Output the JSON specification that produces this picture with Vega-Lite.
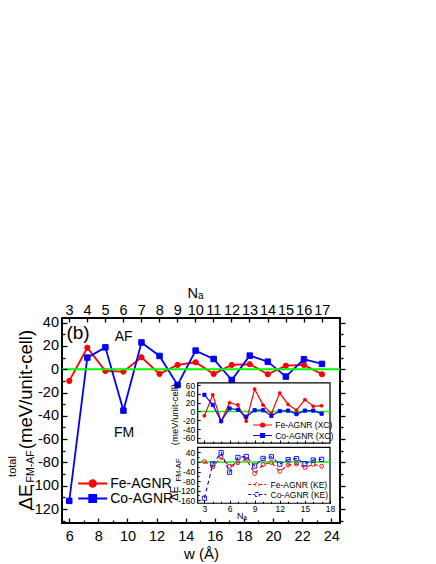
{
"$schema": "https://vega.github.io/schema/vega-lite/v6.json",
"width": 278, "height": 205,
"autosize": {"type": "none"},
"padding": {"left": 62, "top": 318, "right": 96, "bottom": 41},
"background": "white",
"config": {
  "font": "Liberation Sans",
  "view": {"stroke": "black", "strokeWidth": 2},
  "axis": {"grid": false, "domain": false, "tickColor": "black", "labelColor": "black", "titleColor": "black", "titleFontWeight": "normal", "labelFont": "Liberation Sans", "titleFont": "Liberation Sans", "labelFlush": false, "tickWidth": 1.3},
  "legend": {"labelFont": "Liberation Sans", "labelColor": "black"}
},
"datasets": {
  "main": [
    {"Na": 3, "w": 6.00, "material": "Fe-AGNR", "E": -10},
    {"Na": 4, "w": 7.24, "material": "Fe-AGNR", "E": 18.5},
    {"Na": 5, "w": 8.48, "material": "Fe-AGNR", "E": -1.5},
    {"Na": 6, "w": 9.72, "material": "Fe-AGNR", "E": -2},
    {"Na": 7, "w": 10.96, "material": "Fe-AGNR", "E": 10.3},
    {"Na": 8, "w": 12.20, "material": "Fe-AGNR", "E": -4},
    {"Na": 9, "w": 13.44, "material": "Fe-AGNR", "E": 3.7},
    {"Na": 10, "w": 14.68, "material": "Fe-AGNR", "E": 6},
    {"Na": 11, "w": 15.92, "material": "Fe-AGNR", "E": -4},
    {"Na": 12, "w": 17.16, "material": "Fe-AGNR", "E": 3.7},
    {"Na": 13, "w": 18.40, "material": "Fe-AGNR", "E": 4.3},
    {"Na": 14, "w": 19.64, "material": "Fe-AGNR", "E": -4.3},
    {"Na": 15, "w": 20.88, "material": "Fe-AGNR", "E": 3.1},
    {"Na": 16, "w": 22.12, "material": "Fe-AGNR", "E": 3.7},
    {"Na": 17, "w": 23.36, "material": "Fe-AGNR", "E": -4.3},
    {"Na": 3, "w": 6.00, "material": "Co-AGNR", "E": -113},
    {"Na": 4, "w": 7.24, "material": "Co-AGNR", "E": 10},
    {"Na": 5, "w": 8.48, "material": "Co-AGNR", "E": 18.8},
    {"Na": 6, "w": 9.72, "material": "Co-AGNR", "E": -35.5},
    {"Na": 7, "w": 10.96, "material": "Co-AGNR", "E": 23},
    {"Na": 8, "w": 12.20, "material": "Co-AGNR", "E": 11.4},
    {"Na": 9, "w": 13.44, "material": "Co-AGNR", "E": -13.5},
    {"Na": 10, "w": 14.68, "material": "Co-AGNR", "E": 16},
    {"Na": 11, "w": 15.92, "material": "Co-AGNR", "E": 8.8},
    {"Na": 12, "w": 17.16, "material": "Co-AGNR", "E": -9.2},
    {"Na": 13, "w": 18.40, "material": "Co-AGNR", "E": 11.7},
    {"Na": 14, "w": 19.64, "material": "Co-AGNR", "E": 6.5},
    {"Na": 15, "w": 20.88, "material": "Co-AGNR", "E": -6.3},
    {"Na": 16, "w": 22.12, "material": "Co-AGNR", "E": 8.6},
    {"Na": 17, "w": 23.36, "material": "Co-AGNR", "E": 4.6}
  ],
  "xc": [
    {"Na": 3, "material": "Fe-AGNR (XC)", "E": -10},
    {"Na": 4, "material": "Fe-AGNR (XC)", "E": 38},
    {"Na": 5, "material": "Fe-AGNR (XC)", "E": -23},
    {"Na": 6, "material": "Fe-AGNR (XC)", "E": 20},
    {"Na": 7, "material": "Fe-AGNR (XC)", "E": 15},
    {"Na": 8, "material": "Fe-AGNR (XC)", "E": -22},
    {"Na": 9, "material": "Fe-AGNR (XC)", "E": 51},
    {"Na": 10, "material": "Fe-AGNR (XC)", "E": 15},
    {"Na": 11, "material": "Fe-AGNR (XC)", "E": -5},
    {"Na": 12, "material": "Fe-AGNR (XC)", "E": 42},
    {"Na": 13, "material": "Fe-AGNR (XC)", "E": 16},
    {"Na": 14, "material": "Fe-AGNR (XC)", "E": 3},
    {"Na": 15, "material": "Fe-AGNR (XC)", "E": 27},
    {"Na": 16, "material": "Fe-AGNR (XC)", "E": 12},
    {"Na": 17, "material": "Fe-AGNR (XC)", "E": 13},
    {"Na": 3, "material": "Co-AGNR (XC)", "E": 38},
    {"Na": 4, "material": "Co-AGNR (XC)", "E": 15},
    {"Na": 5, "material": "Co-AGNR (XC)", "E": -22},
    {"Na": 6, "material": "Co-AGNR (XC)", "E": 7},
    {"Na": 7, "material": "Co-AGNR (XC)", "E": 4},
    {"Na": 8, "material": "Co-AGNR (XC)", "E": -12},
    {"Na": 9, "material": "Co-AGNR (XC)", "E": 3},
    {"Na": 10, "material": "Co-AGNR (XC)", "E": 3},
    {"Na": 11, "material": "Co-AGNR (XC)", "E": -10},
    {"Na": 12, "material": "Co-AGNR (XC)", "E": 1},
    {"Na": 13, "material": "Co-AGNR (XC)", "E": 2},
    {"Na": 14, "material": "Co-AGNR (XC)", "E": -6},
    {"Na": 15, "material": "Co-AGNR (XC)", "E": 2},
    {"Na": 16, "material": "Co-AGNR (XC)", "E": 2},
    {"Na": 17, "material": "Co-AGNR (XC)", "E": -5}
  ],
  "ke": [
    {"Na": 3, "material": "Fe-AGNR (KE)", "E": 2},
    {"Na": 4, "material": "Fe-AGNR (KE)", "E": -20},
    {"Na": 5, "material": "Fe-AGNR (KE)", "E": 19},
    {"Na": 6, "material": "Fe-AGNR (KE)", "E": -18},
    {"Na": 7, "material": "Fe-AGNR (KE)", "E": -3},
    {"Na": 8, "material": "Fe-AGNR (KE)", "E": 12},
    {"Na": 9, "material": "Fe-AGNR (KE)", "E": -48},
    {"Na": 10, "material": "Fe-AGNR (KE)", "E": -11},
    {"Na": 11, "material": "Fe-AGNR (KE)", "E": -2},
    {"Na": 12, "material": "Fe-AGNR (KE)", "E": -39},
    {"Na": 13, "material": "Fe-AGNR (KE)", "E": -13},
    {"Na": 14, "material": "Fe-AGNR (KE)", "E": -8},
    {"Na": 15, "material": "Fe-AGNR (KE)", "E": -23},
    {"Na": 16, "material": "Fe-AGNR (KE)", "E": -10},
    {"Na": 17, "material": "Fe-AGNR (KE)", "E": -18},
    {"Na": 3, "material": "Co-AGNR (KE)", "E": -152},
    {"Na": 4, "material": "Co-AGNR (KE)", "E": -8},
    {"Na": 5, "material": "Co-AGNR (KE)", "E": 39},
    {"Na": 6, "material": "Co-AGNR (KE)", "E": -43},
    {"Na": 7, "material": "Co-AGNR (KE)", "E": 19},
    {"Na": 8, "material": "Co-AGNR (KE)", "E": 23},
    {"Na": 9, "material": "Co-AGNR (KE)", "E": -17},
    {"Na": 10, "material": "Co-AGNR (KE)", "E": 15},
    {"Na": 11, "material": "Co-AGNR (KE)", "E": 22},
    {"Na": 12, "material": "Co-AGNR (KE)", "E": -9},
    {"Na": 13, "material": "Co-AGNR (KE)", "E": 10},
    {"Na": 14, "material": "Co-AGNR (KE)", "E": 14},
    {"Na": 15, "material": "Co-AGNR (KE)", "E": -7},
    {"Na": 16, "material": "Co-AGNR (KE)", "E": 8},
    {"Na": 17, "material": "Co-AGNR (KE)", "E": 11}
  ]
},
"layer": [
  {
    "data": {"name": "main"},
    "transform": [{"filter": "datum.material === 'Fe-AGNR'"}],
    "encoding": {
      "x": {"field": "w", "type": "quantitative", "scale": {"domain": [5.5, 24.6], "nice": false, "zero": false},
        "axis": {"orient": "bottom", "values": [6,7,8,9,10,11,12,13,14,15,16,17,18,19,20,21,22,23,24],
          "labelExpr": "datum.value % 2 === 0 ? '' + datum.value : ''",
          "tickSize": {"condition": {"test": "datum.value % 2 === 0", "value": -5}, "value": -3},
          "labelPadding": 11.5, "labelFontSize": 14.5, "title": "w (Å)", "titleFontSize": 15,
          "titleY": 30, "titleBaseline": "middle", "zindex": 1}},
      "y": {"field": "E", "type": "quantitative", "scale": {"domain": [-132, 44], "nice": false, "zero": false},
        "axis": {"orient": "left", "values": [-130,-120,-110,-100,-90,-80,-70,-60,-50,-40,-30,-20,-10,0,10,20,30,40],
          "labelExpr": "datum.value % 20 === 0 ? '' + datum.value : ''",
          "tickSize": {"condition": {"test": "datum.value % 20 === 0", "value": -5}, "value": -3},
          "labelPadding": 8.5, "labelFontSize": 14.5, "title": "ΔE", "titleFontSize": 19,
          "titleX": -31, "titleY": 178.5, "titleAngle": -90, "titleAlign": "center", "titleBaseline": "alphabetic", "zindex": 1}}
    },
    "layer": [
      {"mark": {"type": "line", "strokeWidth": 1.8},
       "encoding": {"stroke": {"field": "material", "type": "nominal", "scale": {"domain": ["Fe-AGNR"], "range": ["#ff0000"]},
         "legend": {"orient": "none", "legendX": 23.7, "legendY": 158.5, "title": null, "padding": 0, "labelFontSize": 14, "labelOffset": 10.5, "symbolSize": 93.4, "symbolStrokeWidth": 1.8, "symbolType": "M-3,0L3,0M-0.68,0A0.68,0.68,0,1,1,0.68,0A0.68,0.68,0,1,1,-0.68,0Z"}}}},
      {"mark": {"type": "point", "filled": true, "opacity": 1, "size": 27, "strokeWidth": 1},
       "encoding": {
         "stroke": {"field": "material", "type": "nominal", "scale": {"domain": ["Fe-AGNR"], "range": ["#ff0000"]},
           "legend": {"orient": "none", "legendX": 23.7, "legendY": 158.5, "title": null, "padding": 0, "labelFontSize": 14, "labelOffset": 10.5, "symbolSize": 93.4, "symbolStrokeWidth": 1.8, "symbolType": "M-3,0L3,0M-0.68,0A0.68,0.68,0,1,1,0.68,0A0.68,0.68,0,1,1,-0.68,0Z"}},
         "fill": {"field": "material", "type": "nominal", "scale": {"domain": ["Fe-AGNR"], "range": ["#ff0000"]},
           "legend": {"orient": "none", "legendX": 23.7, "legendY": 158.5, "title": null, "padding": 0, "labelFontSize": 14, "labelOffset": 10.5, "symbolSize": 93.4, "symbolStrokeWidth": 1.8, "symbolType": "M-3,0L3,0M-0.68,0A0.68,0.68,0,1,1,0.68,0A0.68,0.68,0,1,1,-0.68,0Z"}}}}
    ]
  },
  {
    "data": {"name": "main"},
    "transform": [{"filter": "datum.material === 'Co-AGNR'"}],
    "encoding": {
      "x": {"field": "w", "type": "quantitative", "scale": {"domain": [5.5, 24.6], "nice": false, "zero": false}, "axis": null},
      "y": {"field": "E", "type": "quantitative", "scale": {"domain": [-132, 44], "nice": false, "zero": false}, "axis": null}
    },
    "layer": [
      {"mark": {"type": "line", "strokeWidth": 1.8},
       "encoding": {"stroke": {"field": "material", "type": "nominal", "scale": {"domain": ["Co-AGNR"], "range": ["#0000ff"]},
         "legend": {"orient": "none", "legendX": 23.7, "legendY": 173.5, "title": null, "padding": 0, "labelFontSize": 14, "labelOffset": 10.5, "symbolSize": 93.4, "symbolStrokeWidth": 1.8, "symbolType": "M-3,0L3,0M-0.72,-0.72L0.72,-0.72L0.72,0.72L-0.72,0.72Z"}}}},
      {"mark": {"type": "point", "filled": true, "opacity": 1, "size": 30, "strokeWidth": 1, "shape": "square"},
       "encoding": {
         "stroke": {"field": "material", "type": "nominal", "scale": {"domain": ["Co-AGNR"], "range": ["#0000ff"]},
           "legend": {"orient": "none", "legendX": 23.7, "legendY": 173.5, "title": null, "padding": 0, "labelFontSize": 14, "labelOffset": 10.5, "symbolSize": 93.4, "symbolStrokeWidth": 1.8, "symbolType": "M-3,0L3,0M-0.72,-0.72L0.72,-0.72L0.72,0.72L-0.72,0.72Z"}},
         "fill": {"field": "material", "type": "nominal", "scale": {"domain": ["Co-AGNR"], "range": ["#0000ff"]},
           "legend": {"orient": "none", "legendX": 23.7, "legendY": 173.5, "title": null, "padding": 0, "labelFontSize": 14, "labelOffset": 10.5, "symbolSize": 93.4, "symbolStrokeWidth": 1.8, "symbolType": "M-3,0L3,0M-0.72,-0.72L0.72,-0.72L0.72,0.72L-0.72,0.72Z"}}}}
    ]
  },
  {
    "data": {"values": [{}]},
    "mark": {"type": "rule", "color": "#00ff00", "strokeWidth": 1.8},
    "encoding": {
      "x": {"datum": 2.612, "type": "quantitative", "scale": {"domain": [2.612, 18.014], "nice": false, "zero": false},
        "axis": {"orient": "top", "values": [3,4,5,6,7,8,9,10,11,12,13,14,15,16,17], "tickSize": -4, "labelPadding": 5, "labelFontSize": 14.5,
          "title": "Nₐ", "titleFontSize": 14.5, "titleX": 133, "titleY": -24.5, "titleBaseline": "middle", "titleAlign": "center", "zindex": 1}},
      "x2": {"datum": 18.014},
      "y": {"datum": 0, "type": "quantitative", "scale": {"domain": [-132, 44], "nice": false, "zero": false},
        "axis": {"orient": "right", "values": [-130,-120,-110,-100,-90,-80,-70,-60,-50,-40,-30,-20,-10,0,10,20,30,40], "labels": false,
          "tickSize": {"condition": {"test": "datum.value % 20 === 0", "value": 5}, "value": 3},
          "title": "(meV/unit-cell)", "titleFontSize": 18.5, "titleX": -309, "titleY": 71, "titleAngle": -90, "titleAlign": "center", "titleBaseline": "alphabetic", "zindex": 1}}
    }
  },
  {
    "data": {"values": [{}]},
    "mark": {"type": "text", "fontSize": 19, "color": "black"},
    "encoding": {
      "text": {"value": "(b)"},
      "x": {"datum": 6.6, "type": "quantitative", "scale": {"domain": [5.5, 24.6], "nice": false, "zero": false}, "axis": null},
      "y": {"datum": 30.7, "type": "quantitative", "scale": {"domain": [-132, 44], "nice": false, "zero": false},
        "axis": {"orient": "left", "ticks": false, "labels": false, "title": "total", "titleFontSize": 11,
          "titleX": -47, "titleY": 148, "titleAngle": -90, "titleAlign": "center", "titleBaseline": "alphabetic"}}
    }
  },
  {
    "data": {"values": [{}]},
    "mark": {"type": "text", "fontSize": 14, "color": "black"},
    "encoding": {
      "text": {"value": "AF"},
      "x": {"datum": 9.73, "type": "quantitative", "scale": {"domain": [5.5, 24.6], "nice": false, "zero": false}, "axis": null},
      "y": {"datum": 27.7, "type": "quantitative", "scale": {"domain": [-132, 44], "nice": false, "zero": false},
        "axis": {"orient": "left", "ticks": false, "labels": false, "title": "FM-AF", "titleFontSize": 10.5,
          "titleX": -29, "titleY": 148, "titleAngle": -90, "titleAlign": "center", "titleBaseline": "alphabetic"}}
    }
  },
  {
    "data": {"values": [{}]},
    "mark": {"type": "text", "fontSize": 14, "color": "black"},
    "encoding": {
      "text": {"value": "FM"},
      "x": {"datum": 9.76, "type": "quantitative", "scale": {"domain": [5.5, 24.6], "nice": false, "zero": false}, "axis": null},
      "y": {"datum": -54.7, "type": "quantitative", "scale": {"domain": [-132, 44], "nice": false, "zero": false}, "axis": null}
    }
  },
  {
    "data": {"values": [{}]},
    "mark": {"type": "rect", "fill": "white", "stroke": "black", "strokeWidth": 1.2},
    "encoding": {
      "x": {"datum": 2.2, "type": "quantitative", "scale": {"domain": [-14.007, 19.194], "nice": false, "zero": false},
        "axis": {"orient": "bottom", "offset": -80, "values": [3,4,5,6,7,8,9,10,11,12,13,14,15,16,17], "labels": false,
          "tickSize": {"condition": {"test": "datum.value % 3 === 0", "value": -3}, "value": -2}, "tickWidth": 1, "title": null, "zindex": 1}},
      "x2": {"datum": 18},
      "y": {"datum": -72, "type": "quantitative", "scale": {"domain": [-254.2, 213.1], "nice": false, "zero": false},
        "axis": {"orient": "left", "offset": -135.7, "values": [-60,-40,-20,0,20,40,60], "tickSize": -2.5, "tickWidth": 1,
          "labelPadding": 5.5, "labelFontSize": 8.5, "labelExpr": "'' + datum.value",
          "title": "(meV/unit-cell)", "titleFontSize": 9.5, "titleX": -20.7, "titleY": 96, "titleAngle": -90, "titleAlign": "center", "titleBaseline": "alphabetic", "zindex": 1}},
      "y2": {"datum": 65}
    }
  },
  {
    "data": {"values": [{}]},
    "mark": {"type": "rect", "fill": "white", "stroke": "black", "strokeWidth": 1.2},
    "encoding": {
      "x": {"datum": 2.2, "type": "quantitative", "scale": {"domain": [-14.007, 19.194], "nice": false, "zero": false},
        "axis": {"orient": "bottom", "offset": -19.7, "values": [3,4,5,6,7,8,9,10,11,12,13,14,15,16,17,18],
          "labelExpr": "datum.value % 3 === 0 ? '' + datum.value : ''",
          "tickSize": {"condition": {"test": "datum.value % 3 === 0", "value": -3}, "value": -2}, "tickWidth": 1,
          "labelPadding": 4.4, "labelFontSize": 8.5,
          "title": "Nₐ", "titleFontSize": 9, "titleX": 179.5, "titleY": 12.2, "titleBaseline": "middle", "titleAlign": "center", "zindex": 1}},
      "x2": {"datum": 18},
      "y": {"datum": -173, "type": "quantitative", "scale": {"domain": [-255.8, 603.8], "nice": false, "zero": false},
        "axis": {"orient": "left", "offset": -135.7, "values": [-160,-140,-120,-100,-80,-60,-40,-20,0,20,40],
          "labelExpr": "datum.value % 40 === 0 ? '' + datum.value : ''",
          "tickSize": {"condition": {"test": "datum.value % 40 === 0", "value": -2.5}, "value": -1.5}, "tickWidth": 1,
          "labelPadding": 5.5, "labelFontSize": 8.5,
          "title": "ΔE", "titleFontSize": 11, "titleX": -20.7, "titleY": 175, "titleAngle": -90, "titleAlign": "center", "titleBaseline": "alphabetic", "zindex": 1}},
      "y2": {"datum": 61.6}
    }
  },
  {
    "data": {"values": [{}]},
    "mark": {"type": "rule", "color": "#00ff00", "strokeWidth": 1.3},
    "encoding": {
      "x": {"datum": 2.2, "type": "quantitative", "scale": {"domain": [-14.007, 19.194], "nice": false, "zero": false}, "axis": null},
      "x2": {"datum": 18},
      "y": {"datum": 0, "type": "quantitative", "scale": {"domain": [-254.2, 213.1], "nice": false, "zero": false}, "axis": null}
    }
  },
  {
    "data": {"values": [{}]},
    "mark": {"type": "rule", "color": "#00ff00", "strokeWidth": 1.3},
    "encoding": {
      "x": {"datum": 2.2, "type": "quantitative", "scale": {"domain": [-14.007, 19.194], "nice": false, "zero": false}, "axis": null},
      "x2": {"datum": 18},
      "y": {"datum": 0, "type": "quantitative", "scale": {"domain": [-255.8, 603.8], "nice": false, "zero": false}, "axis": null}
    }
  },
  {
    "data": {"name": "xc"},
    "transform": [{"filter": "datum.material === 'Fe-AGNR (XC)'"}],
    "encoding": {
      "x": {"field": "Na", "type": "quantitative", "scale": {"domain": [-14.007, 19.194], "nice": false, "zero": false}, "axis": null},
      "y": {"field": "E", "type": "quantitative", "scale": {"domain": [-254.2, 213.1], "nice": false, "zero": false},
        "axis": {"orient": "left", "offset": -135.7, "ticks": false, "labels": false, "title": "FM-AF", "titleFontSize": 7.5,
          "titleX": -17.7, "titleY": 151.5, "titleAngle": -90, "titleAlign": "center", "titleBaseline": "alphabetic"}}
    },
    "layer": [
      {"mark": {"type": "line", "strokeWidth": 1.2},
       "encoding": {"stroke": {"field": "material", "type": "nominal", "scale": {"domain": ["Fe-AGNR (XC)"], "range": ["#ff0000"]},
         "legend": {"orient": "none", "legendX": 196.3, "legendY": 102.75, "title": null, "padding": 0, "labelFontSize": 8.5, "labelOffset": 8.4, "symbolSize": 40.1, "symbolStrokeWidth": 1.2, "symbolType": "M-3,0L3,0M-0.63,0A0.63,0.63,0,1,1,0.63,0A0.63,0.63,0,1,1,-0.63,0Z"}}}},
      {"mark": {"type": "point", "filled": true, "opacity": 1, "size": 9, "strokeWidth": 0.8},
       "encoding": {
         "stroke": {"field": "material", "type": "nominal", "scale": {"domain": ["Fe-AGNR (XC)"], "range": ["#ff0000"]},
           "legend": {"orient": "none", "legendX": 196.3, "legendY": 102.75, "title": null, "padding": 0, "labelFontSize": 8.5, "labelOffset": 8.4, "symbolSize": 40.1, "symbolStrokeWidth": 1.2, "symbolType": "M-3,0L3,0M-0.63,0A0.63,0.63,0,1,1,0.63,0A0.63,0.63,0,1,1,-0.63,0Z"}},
         "fill": {"field": "material", "type": "nominal", "scale": {"domain": ["Fe-AGNR (XC)"], "range": ["#ff0000"]},
           "legend": {"orient": "none", "legendX": 196.3, "legendY": 102.75, "title": null, "padding": 0, "labelFontSize": 8.5, "labelOffset": 8.4, "symbolSize": 40.1, "symbolStrokeWidth": 1.2, "symbolType": "M-3,0L3,0M-0.63,0A0.63,0.63,0,1,1,0.63,0A0.63,0.63,0,1,1,-0.63,0Z"}}}}
    ]
  },
  {
    "data": {"name": "xc"},
    "transform": [{"filter": "datum.material === 'Co-AGNR (XC)'"}],
    "encoding": {
      "x": {"field": "Na", "type": "quantitative", "scale": {"domain": [-14.007, 19.194], "nice": false, "zero": false}, "axis": null},
      "y": {"field": "E", "type": "quantitative", "scale": {"domain": [-254.2, 213.1], "nice": false, "zero": false}, "axis": null}
    },
    "layer": [
      {"mark": {"type": "line", "strokeWidth": 1.2},
       "encoding": {"stroke": {"field": "material", "type": "nominal", "scale": {"domain": ["Co-AGNR (XC)"], "range": ["#0000ff"]},
         "legend": {"orient": "none", "legendX": 196.3, "legendY": 113.25, "title": null, "padding": 0, "labelFontSize": 8.5, "labelOffset": 8.4, "symbolSize": 40.1, "symbolStrokeWidth": 1.2, "symbolType": "M-3,0L3,0M-0.63,-0.63L0.63,-0.63L0.63,0.63L-0.63,0.63Z"}}}},
      {"mark": {"type": "point", "filled": true, "opacity": 1, "size": 11, "strokeWidth": 0.8, "shape": "square"},
       "encoding": {
         "stroke": {"field": "material", "type": "nominal", "scale": {"domain": ["Co-AGNR (XC)"], "range": ["#0000ff"]},
           "legend": {"orient": "none", "legendX": 196.3, "legendY": 113.25, "title": null, "padding": 0, "labelFontSize": 8.5, "labelOffset": 8.4, "symbolSize": 40.1, "symbolStrokeWidth": 1.2, "symbolType": "M-3,0L3,0M-0.63,-0.63L0.63,-0.63L0.63,0.63L-0.63,0.63Z"}},
         "fill": {"field": "material", "type": "nominal", "scale": {"domain": ["Co-AGNR (XC)"], "range": ["#0000ff"]},
           "legend": {"orient": "none", "legendX": 196.3, "legendY": 113.25, "title": null, "padding": 0, "labelFontSize": 8.5, "labelOffset": 8.4, "symbolSize": 40.1, "symbolStrokeWidth": 1.2, "symbolType": "M-3,0L3,0M-0.63,-0.63L0.63,-0.63L0.63,0.63L-0.63,0.63Z"}}}}
    ]
  },
  {
    "data": {"name": "ke"},
    "transform": [{"filter": "datum.material === 'Fe-AGNR (KE)'"}],
    "encoding": {
      "x": {"field": "Na", "type": "quantitative", "scale": {"domain": [-14.007, 19.194], "nice": false, "zero": false}, "axis": null},
      "y": {"field": "E", "type": "quantitative", "scale": {"domain": [-255.8, 603.8], "nice": false, "zero": false}, "axis": null}
    },
    "layer": [
      {"mark": {"type": "line", "strokeWidth": 1.1, "strokeDash": [4, 3]},
       "encoding": {"stroke": {"field": "material", "type": "nominal", "scale": {"domain": ["Fe-AGNR (KE)"], "range": ["#ff0000"]},
         "legend": {"orient": "none", "legendX": 191, "legendY": 162.25, "title": null, "padding": 0, "labelFontSize": 8.5, "labelOffset": 9, "symbolSize": 36, "symbolStrokeWidth": 1, "symbolDash": [3, 2], "symbolType": "M-3,0L-0.7,0M0.7,0L3,0M-0.65,0A0.65,0.65,0,1,1,0.65,0A0.65,0.65,0,1,1,-0.65,0Z"}}}},
      {"mark": {"type": "point", "filled": false, "opacity": 1, "size": 16, "strokeWidth": 0.9},
       "encoding": {
         "stroke": {"field": "material", "type": "nominal", "scale": {"domain": ["Fe-AGNR (KE)"], "range": ["#ff0000"]},
           "legend": {"orient": "none", "legendX": 191, "legendY": 162.25, "title": null, "padding": 0, "labelFontSize": 8.5, "labelOffset": 9, "symbolSize": 36, "symbolStrokeWidth": 1, "symbolDash": [3, 2], "symbolType": "M-3,0L-0.7,0M0.7,0L3,0M-0.65,0A0.65,0.65,0,1,1,0.65,0A0.65,0.65,0,1,1,-0.65,0Z"}}}}
    ]
  },
  {
    "data": {"name": "ke"},
    "transform": [{"filter": "datum.material === 'Co-AGNR (KE)'"}],
    "encoding": {
      "x": {"field": "Na", "type": "quantitative", "scale": {"domain": [-14.007, 19.194], "nice": false, "zero": false}, "axis": null},
      "y": {"field": "E", "type": "quantitative", "scale": {"domain": [-255.8, 603.8], "nice": false, "zero": false}, "axis": null}
    },
    "layer": [
      {"mark": {"type": "line", "strokeWidth": 1.1, "strokeDash": [4, 3]},
       "encoding": {"stroke": {"field": "material", "type": "nominal", "scale": {"domain": ["Co-AGNR (KE)"], "range": ["#0000ff"]},
         "legend": {"orient": "none", "legendX": 191, "legendY": 172.25, "title": null, "padding": 0, "labelFontSize": 8.5, "labelOffset": 9, "symbolSize": 36, "symbolStrokeWidth": 1, "symbolDash": [3, 2], "symbolType": "M-3,0L-0.7,0M0.7,0L3,0M-0.65,-0.65L0.65,-0.65L0.65,0.65L-0.65,0.65Z"}}}},
      {"mark": {"type": "point", "filled": false, "opacity": 1, "size": 18, "strokeWidth": 0.9, "shape": "square"},
       "encoding": {
         "stroke": {"field": "material", "type": "nominal", "scale": {"domain": ["Co-AGNR (KE)"], "range": ["#0000ff"]},
           "legend": {"orient": "none", "legendX": 191, "legendY": 172.25, "title": null, "padding": 0, "labelFontSize": 8.5, "labelOffset": 9, "symbolSize": 36, "symbolStrokeWidth": 1, "symbolDash": [3, 2], "symbolType": "M-3,0L-0.7,0M0.7,0L3,0M-0.65,-0.65L0.65,-0.65L0.65,0.65L-0.65,0.65Z"}}}}
    ]
  }
],
"resolve": {
  "scale": {"x": "independent", "y": "independent", "stroke": "independent", "fill": "independent"},
  "axis": {"x": "independent", "y": "independent"},
  "legend": {"stroke": "independent", "fill": "independent"}
}
}
